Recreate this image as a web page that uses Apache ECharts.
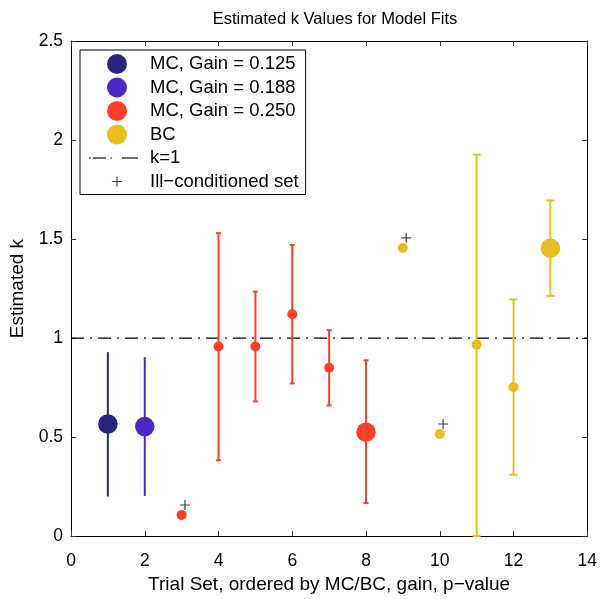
<!DOCTYPE html>
<html>
<head>
<meta charset="utf-8">
<title>Estimated k Values for Model Fits</title>
<script src="https://cdn.jsdelivr.net/npm/echarts@6/dist/echarts.min.js"></script>
<style>
  html, body { margin: 0; padding: 0; background: #fff; }
  #main { width: 600px; height: 599px; }
</style>
</head>
<body>
<div id="main"></div>
<script>
// trial sets on the x axis, estimated k and its interval
var trialSets = [1, 2, 3, 4, 5, 6, 7, 8, 9, 10, 11, 12, 13];
var kEst  = [0.566, 0.553, 0.107, 0.957, 0.957, 1.120, 0.850, 0.525, 1.455, 0.516, 0.967, 0.752, 1.454];
var kLow  = [0.200, 0.203, null, 0.383, 0.680, 0.771, 0.660, 0.167, null, null, 0.000, 0.310, 1.213];
var kHigh = [0.929, 0.904, null, 1.530, 1.234, 1.470, 1.040, 0.888, null, null, 1.926, 1.195, 1.695];
var groupOf = [0, 1, 2, 2, 2, 2, 2, 2, 3, 3, 3, 3, 3];
var groupNames = ['MC, Gain = 0.125', 'MC, Gain = 0.188', 'MC, Gain = 0.250', 'BC'];
var largeSets = [1, 2, 8, 13];

// ill-conditioned set markers
var illX = [3.09, 9.09, 10.09];
var illY = [0.157, 1.506, 0.566];

// reference line k = 1
var refX = [0, 14];
var refK = 1;

var xTicks = [0, 2, 4, 6, 8, 10, 12, 14];
var yTicks = [0, 0.5, 1, 1.5, 2, 2.5];

var colors = ['#262680', '#4b28c6', '#ff3f28', '#e6bf1e'];
var capWidth = [0, 0, 5, 8];
var FONT = '"Liberation Sans", Arial, Helvetica, sans-serif';

var chartDom = document.getElementById('main');
var myChart = echarts.init(chartDom);

var series = [];

groupNames.forEach(function (name, g) {
    var bars = [];
    var pts = [];
    trialSets.forEach(function (x, i) {
        if (groupOf[i] !== g) return;
        if (kLow[i] !== null) bars.push([x, kLow[i], kHigh[i]]);
        pts.push({ value: [x, kEst[i]], symbolSize: largeSets.indexOf(x) >= 0 ? 19.5 : 10 });
    });
    // error bars, caps only on the gain 0.250 and BC groups
    series.push({
        name: name + ' err',
        type: 'custom',
        silent: true,
        z: 2,
        data: bars,
        renderItem: function (params, api) {
            var lo = api.coord([api.value(0), api.value(1)]);
            var hi = api.coord([api.value(0), api.value(2)]);
            var style = { stroke: colors[g], lineWidth: 2 };
            var kids = [{ type: 'line', shape: { x1: lo[0], y1: lo[1], x2: hi[0], y2: hi[1] }, style: style }];
            var w = capWidth[g] / 2;
            if (w > 0) {
                kids.push({ type: 'line', shape: { x1: lo[0] - w, y1: lo[1], x2: lo[0] + w, y2: lo[1] }, style: style });
                kids.push({ type: 'line', shape: { x1: hi[0] - w, y1: hi[1], x2: hi[0] + w, y2: hi[1] }, style: style });
            }
            return { type: 'group', children: kids };
        }
    });
    series.push({
        name: name,
        type: 'scatter',
        z: 3,
        symbol: 'circle',
        itemStyle: { color: colors[g], opacity: 1 },
        data: pts
    });
});

series.push({
    name: 'k1line',
    type: 'line',
    silent: true,
    symbol: 'none',
    z: 1,
    lineStyle: { color: '#000', width: 1.2, type: [13, 6, 2, 6] },
    data: refX.map(function (x) { return [x, refK]; })
});
// legend-only entry for the dash-dot line
series.push({
    name: 'k=1',
    type: 'scatter',
    itemStyle: { color: '#111' },
    data: []
});
series.push({
    name: 'Ill\u2212conditioned set',
    type: 'scatter',
    z: 4,
    symbol: 'path://M4.4,0h1.2v10h-1.2z M0,4.4h10v1.2h-10z',
    symbolSize: 10,
    itemStyle: { color: '#111' },
    data: illX.map(function (x, i) { return [x, illY[i]]; })
});

var axisCommon = {
    axisLine: { show: true, onZero: false, lineStyle: { color: '#000', width: 1 } },
    axisTick: { show: true, inside: true, length: 5, lineStyle: { color: '#333' } },
    splitLine: { show: false }
};

var option = {
    animation: false,
    backgroundColor: '#fff',
    textStyle: { fontFamily: FONT },
    title: {
        text: 'Estimated k Values for Model Fits',
        left: 330,
        textAlign: 'center',
        top: 6,
        textStyle: { fontFamily: FONT, fontSize: 16.5, fontWeight: 'normal', color: '#000' }
    },
    legend: {
        orient: 'vertical',
        left: 80,
        top: 50,
        padding: [4, 7, 3, 9],
        borderColor: '#000',
        borderWidth: 1,
        backgroundColor: '#fff',
        itemWidth: 56,
        itemHeight: 20,
        itemGap: 3.5,
        itemTextGap: 6,
        symbolKeepAspect: true,
        selectedMode: false,
        textStyle: { fontFamily: FONT, fontSize: 18.5, color: '#000', lineHeight: 20 },
        data: [
            { name: groupNames[0], icon: 'circle' },
            { name: groupNames[1], icon: 'circle' },
            { name: groupNames[2], icon: 'circle' },
            { name: groupNames[3], icon: 'circle' },
            { name: 'k=1', icon: 'path://M0,0h0.01v0.01h-0.01z M56,20h0.01v0.01h-0.01z M0,9.3h1.6v1.4h-1.6z M4,9.3h13v1.4h-13z M21.5,9.3h1.6v1.4h-1.6z M33,9.3h16v1.4h-16z' },
            { name: 'Ill\u2212conditioned set', icon: 'path://M0,0h0.01v0.01h-0.01z M56,20h0.01v0.01h-0.01z M27.4,5h1.2v10h-1.2z M23,9.4h10v1.2h-10z' }
        ]
    },
    grid: { left: 71, right: 11, top: 41, bottom: 53, containLabel: false },
    xAxis: [
        Object.assign({}, axisCommon, {
            type: 'value',
            min: xTicks[0],
            max: xTicks[xTicks.length - 1],
            interval: 2,
            position: 'bottom',
            name: 'Trial Set, ordered by MC/BC, gain, p\u2212value',
            nameLocation: 'middle',
            nameGap: 37,
            nameTextStyle: { fontFamily: FONT, fontSize: 19, color: '#000' },
            axisLabel: { fontFamily: FONT, fontSize: 17.5, color: '#000', margin: 16 }
        }),
        Object.assign({}, axisCommon, {
            type: 'value',
            min: xTicks[0],
            max: xTicks[xTicks.length - 1],
            interval: 2,
            position: 'top',
            axisLabel: { show: false }
        })
    ],
    yAxis: [
        Object.assign({}, axisCommon, {
            type: 'value',
            min: yTicks[0],
            max: yTicks[yTicks.length - 1],
            interval: 0.5,
            position: 'left',
            name: 'Estimated k',
            nameLocation: 'middle',
            nameGap: 44,
            nameTextStyle: { fontFamily: FONT, fontSize: 19, color: '#000' },
            axisLabel: { fontFamily: FONT, fontSize: 17.5, color: '#000', margin: 8 }
        }),
        Object.assign({}, axisCommon, {
            type: 'value',
            min: yTicks[0],
            max: yTicks[yTicks.length - 1],
            interval: 0.5,
            position: 'right',
            axisLabel: { show: false }
        })
    ],
    series: series
};

option && myChart.setOption(option);
</script>
</body>
</html>
